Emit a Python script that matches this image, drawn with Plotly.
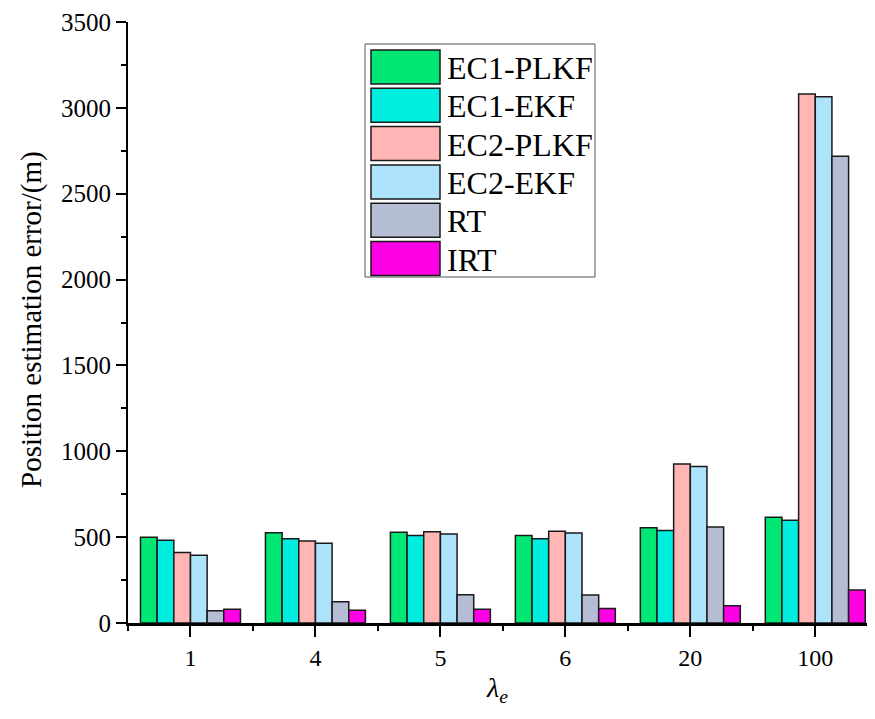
import plotly.graph_objects as go

categories = ["1", "4", "5", "6", "20", "100"]
series_names = ["EC1-PLKF", "EC1-EKF", "EC2-PLKF", "EC2-EKF", "RT", "IRT"]
ec1_plkf = [500, 526, 528, 509, 555, 616]
ec1_ekf = [482, 491, 509, 491, 538, 598]
ec2_plkf = [410, 478, 532, 534, 926, 3080]
ec2_ekf = [394, 464, 518, 524, 912, 3065]
rt = [72, 124, 165, 163, 559, 2718]
irt = [80, 74, 80, 85, 101, 192]
colors = ["#00E873", "#00EEDF", "#FFB6B5", "#ADE4FB", "#B4BDD3", "#FF00E5"]

values = [ec1_plkf, ec1_ekf, ec2_plkf, ec2_ekf, rt, irt]
xpos = list(range(len(categories)))

FONT = "Times New Roman, Liberation Serif, serif"
fig = go.Figure()
for name, vals, col in zip(series_names, values, colors):
    fig.add_trace(go.Bar(x=xpos, y=vals, name=name, marker=dict(color=col, line=dict(color="#1a1a1a", width=1.5)), showlegend=False))

# page body has an 8px margin; figure is sized to fit the visible window
OFF = 8
W0, H0 = 875 - OFF, 719 - OFF
L, R, T, B = 120, 1, 14, 96
PW, PH = W0 - L - R, H0 - T - B

def px(xp):
    return (xp - OFF - L) / PW

def py(yp):
    return (H0 - B - (yp - OFF)) / PH

shapes = [dict(type="rect", xref="paper", yref="paper", x0=px(365), x1=px(595), y0=py(277), y1=py(44),
               line=dict(color="#555555", width=1), fillcolor="white", layer="above")]
annotations = []
for i, (name, col) in enumerate(zip(series_names, colors)):
    top = 50 + 38.3 * i
    shapes.append(dict(type="rect", xref="paper", yref="paper", x0=px(371), x1=px(440), y0=py(top + 34), y1=py(top),
                       line=dict(color="#1a1a1a", width=1.5), fillcolor=col, layer="above"))
    annotations.append(dict(xref="paper", yref="paper", x=px(445), y=py(top + 18), text=name, showarrow=False,
                            xanchor="left", yanchor="middle", font=dict(family=FONT, size=32, color="black")))

annotations.append(dict(xref="paper", yref="paper", x=px(31), y=py(320), text="Position estimation error/(m)",
                        showarrow=False, textangle=-90, xanchor="center", yanchor="middle",
                        font=dict(family=FONT, size=29, color="black")))
annotations.append(dict(xref="paper", yref="paper", x=px(497), y=py(690), text="<i>λ<sub>e</sub></i>",
                        showarrow=False, xanchor="center", yanchor="middle",
                        font=dict(family=FONT, size=28, color="black")))

fig.update_layout(
    width=W0, height=H0,
    margin=dict(l=L, r=R, t=T, b=B),
    paper_bgcolor="white", plot_bgcolor="white",
    barmode="group", bargap=0.2, bargroupgap=0,
    font=dict(family=FONT, color="black"),
    shapes=shapes, annotations=annotations,
)
fig.update_xaxes(
    range=[-0.5, 5.47], tickmode="array", tickvals=xpos, ticktext=categories, automargin=False,
    showline=True, linecolor="black", linewidth=2.5, ticks="outside", ticklen=11, tickwidth=2, tickcolor="black",
    minor=dict(ticks="outside", ticklen=5, tickwidth=2, tickcolor="black", tick0=0.5, dtick=1, showgrid=False),
    showgrid=False, zeroline=False, tickfont=dict(family=FONT, size=24),
)
fig.update_yaxes(
    range=[0, 3500], dtick=500, tick0=0, automargin=False,
    showline=True, linecolor="black", linewidth=2, ticks="outside", ticklen=10, tickwidth=2, tickcolor="black",
    minor=dict(ticks="outside", ticklen=5, tickwidth=1.5, tickcolor="black", dtick=250, showgrid=False),
    showgrid=False, zeroline=False, tickfont=dict(family=FONT, size=25),
)

fig.write_html("out.html")
